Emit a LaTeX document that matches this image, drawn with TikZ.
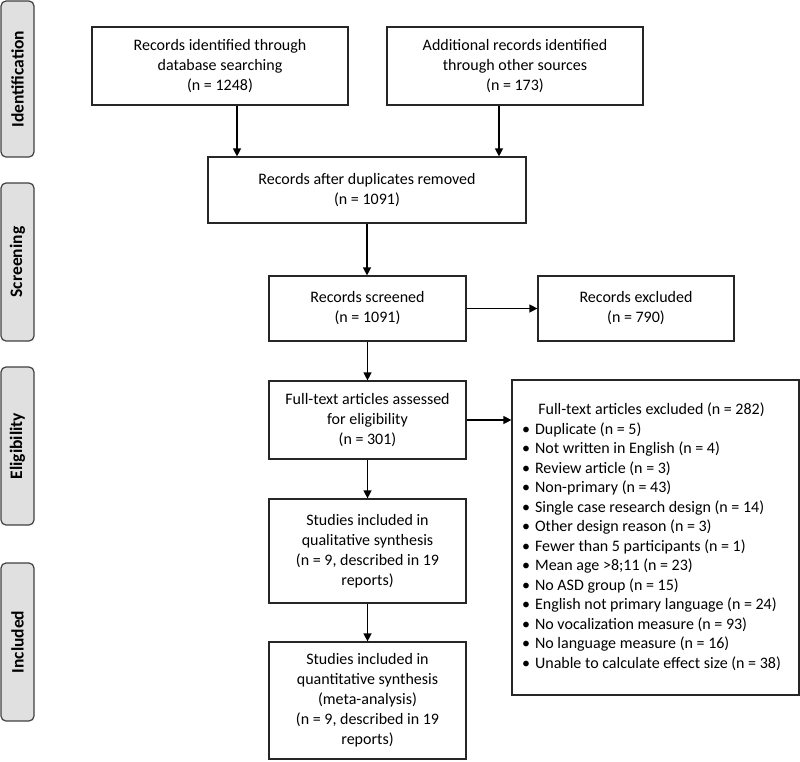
\documentclass[tikz,border=0pt]{standalone}
\usepackage{fontspec}
\setmainfont{Carlito}
\usetikzlibrary{arrows.meta}
\begin{document}
\begin{tikzpicture}[x=1pt,y=-1pt,
  box/.style={draw=black!85,line width=1.2pt,align=center,inner sep=2pt,
    font=\fontsize{16}{20}\selectfont},
  phase/.style={draw=black!75,fill=black!12,line width=1.2pt,rounded corners=5pt,
    minimum width=33pt,font=\fontsize{17.5}{20}\selectfont\bfseries,rotate=90,inner sep=0pt},
  arr/.style={line width=1.3pt,-{Triangle[length=8pt,width=8pt]}}]
\useasboundingbox (0,0) rectangle (800,761);
% phase labels (rotated: minimum width is along the text direction)
\node[phase,minimum width=156pt,minimum height=33pt] (pid) at (17.5,79) {Identification};
\node[phase,minimum width=158pt,minimum height=33pt] (psc) at (17.5,262) {Screening};
\node[phase,minimum width=158pt,minimum height=33pt] (pel) at (17.5,446) {Eligibility};
\node[phase,minimum width=158pt,minimum height=33pt] (pin) at (17.5,642) {Included};
% boxes
\node[box,minimum width=256pt,minimum height=78pt] (db) at (220,66)
  {Records identified through\\database searching\\(n = 1248)};
\node[box,minimum width=256pt,minimum height=78pt] (oth) at (515,66)
  {Additional records identified\\through other sources\\(n = 173)};
\node[box,minimum width=318pt,minimum height=66pt] (dup) at (367,190)
  {Records after duplicates removed\\(n = 1091)};
\node[box,minimum width=197pt,minimum height=65pt] (scr) at (367.5,308.5)
  {Records screened\\(n = 1091)};
\node[box,minimum width=196pt,minimum height=65pt] (exc) at (636,308.5)
  {Records excluded\\(n = 790)};
\node[box,minimum width=197pt,minimum height=78pt] (ft) at (367.5,420)
  {Full-text articles assessed\\for eligibility\\(n = 301)};
\node[box,minimum width=287pt,minimum height=315pt,
  font=\fontsize{16}{19.5}\selectfont] (ftx) at (655.5,537.5)
  {\begin{tabular}{@{}c@{\hspace{5pt}}l@{}}
  \multicolumn{2}{c}{Full-text articles excluded (n = 282)}\\
  \textbullet & Duplicate (n = 5)\\
  \textbullet & Not written in English (n = 4)\\
  \textbullet & Review article (n = 3)\\
  \textbullet & Non-primary (n = 43)\\
  \textbullet & Single case research design (n = 14)\\
  \textbullet & Other design reason (n = 3)\\
  \textbullet & Fewer than 5 participants (n = 1)\\
  \textbullet & Mean age >8;11 (n = 23)\\
  \textbullet & No ASD group (n = 15)\\
  \textbullet & English not primary language (n = 24)\\
  \textbullet & No vocalization measure (n = 93)\\
  \textbullet & No language measure (n = 16)\\
  \textbullet & Unable to calculate effect size (n = 38)
  \end{tabular}\hspace*{8pt}};
\node[box,minimum width=197pt,minimum height=104pt] (qual) at (367.5,551)
  {Studies included in\\qualitative synthesis\\(n = 9, described in 19\\reports)};
\node[box,minimum width=197pt,minimum height=117pt] (quan) at (367.5,700.5)
  {Studies included in\\quantitative synthesis\\(meta-analysis)\\(n = 9, described in 19\\reports)};
% connectors
\draw[arr] ([xshift=17pt]db.south) -- ([xshift=17pt]db.south |- dup.north);
\draw[arr] ([xshift=-16pt]oth.south) -- ([xshift=-16pt]oth.south |- dup.north);
\draw[arr] (dup.south) -- (dup.south |- scr.north);
\draw[arr] (scr.east) -- (exc.west);
\draw[arr] (scr.south) -- (ft.north);
\draw[arr] (ft.east) -- (ft.east -| ftx.west);
\draw[arr] (ft.south) -- (qual.north);
\draw[arr] (qual.south) -- (quan.north);
\end{tikzpicture}
\end{document}
